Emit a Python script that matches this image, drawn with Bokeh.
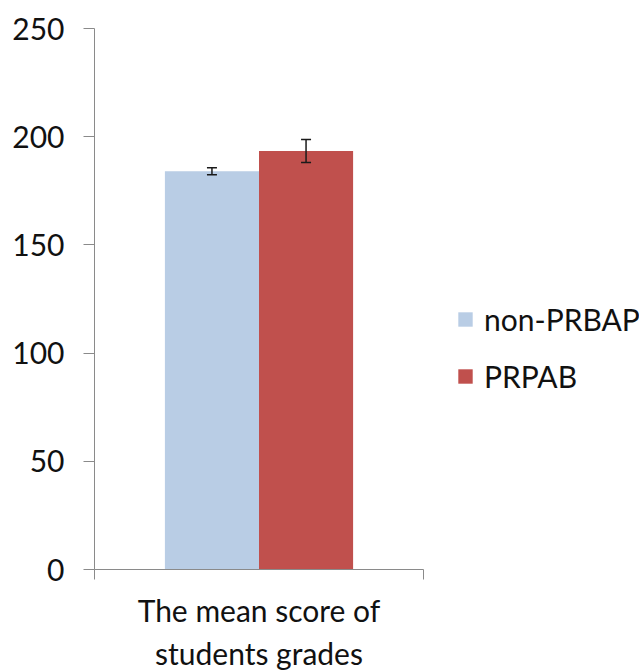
from bokeh.plotting import figure
from bokeh.models import (ColumnDataSource, Range1d, FixedTicker, Whisker, TeeHead,
                          Legend, LegendItem)
from bokeh.embed import file_html
from bokeh.resources import INLINE

groups = ["The mean score of\nstudents grades"]
series = ["non-PRBAP", "PRPAB"]
means = [184.0, 193.4]
errors = [1.6, 5.3]
colors = ["#B9CDE5", "#C0504D"]
y_ticks = [0, 50, 100, 150, 200, 250]

FONT = "Lato"

p = figure(frame_width=329, frame_height=541, min_border_left=94, min_border_right=208,
           min_border_top=28, min_border_bottom=88,
           x_range=Range1d(0, 1), y_range=Range1d(0, 250),
           output_backend="svg", toolbar_location=None)
p.outline_line_color = None
p.grid.visible = False
p.background_fill_color = "white"

bar_w = 0.286
n = len(series)
renderers = []
for i, (name, m, e, c) in enumerate(zip(series, means, errors, colors)):
    xc = 0.5 + (i - (n - 1) / 2) * bar_w
    src = ColumnDataSource(dict(x=[xc], top=[m], lower=[m - e], upper=[m + e]))
    r = p.vbar(x="x", top="top", width=bar_w, bottom=0, source=src,
               fill_color=c, line_color=None)
    renderers.append((name, r))
    w = Whisker(base="x", lower="lower", upper="upper", source=src, level="overlay",
                line_color="#1a1a1a", line_width=1.5,
                upper_head=TeeHead(size=10, line_color="#1a1a1a", line_width=1.5),
                lower_head=TeeHead(size=10, line_color="#1a1a1a", line_width=1.5))
    p.add_layout(w)

# y axis
p.yaxis.ticker = FixedTicker(ticks=y_ticks)
p.yaxis.axis_line_color = "#8a8a8a"
p.yaxis.major_tick_line_color = "#8a8a8a"
p.yaxis.major_tick_out = 11
p.yaxis.major_tick_in = 0
p.yaxis.minor_tick_line_color = None
p.yaxis.major_label_text_font = FONT
p.yaxis.major_label_text_font_size = "30px"
p.yaxis.major_label_text_color = "#111111"
p.yaxis.major_label_standoff = 19

# x axis
p.xaxis.ticker = FixedTicker(ticks=[0, 1])
p.xaxis.major_label_overrides = {0: "", 1: ""}
p.xaxis.major_label_text_font_size = "0px"
p.xaxis.axis_line_color = "#8a8a8a"
p.xaxis.major_tick_line_color = "#8a8a8a"
p.xaxis.major_tick_out = 10
p.xaxis.major_tick_in = 0
p.xaxis.minor_tick_line_color = None
p.xaxis.axis_label = groups[0]
p.xaxis.axis_label_text_font = FONT
p.xaxis.axis_label_text_font_size = "30px"
p.xaxis.axis_label_text_font_style = "normal"
p.xaxis.axis_label_text_color = "#111111"
p.xaxis.axis_label_standoff = 12

legend = Legend(items=[LegendItem(label=nm, renderers=[r]) for nm, r in renderers],
                location=(33, 175), orientation="vertical",
                glyph_width=18, glyph_height=18, label_standoff=10, spacing=21,
                padding=0, margin=0, border_line_color=None,
                background_fill_alpha=0,
                label_text_font=FONT, label_text_font_size="30px",
                label_text_color="#111111")
p.add_layout(legend, "right")

open("out.html", "w").write(file_html(p, INLINE))
